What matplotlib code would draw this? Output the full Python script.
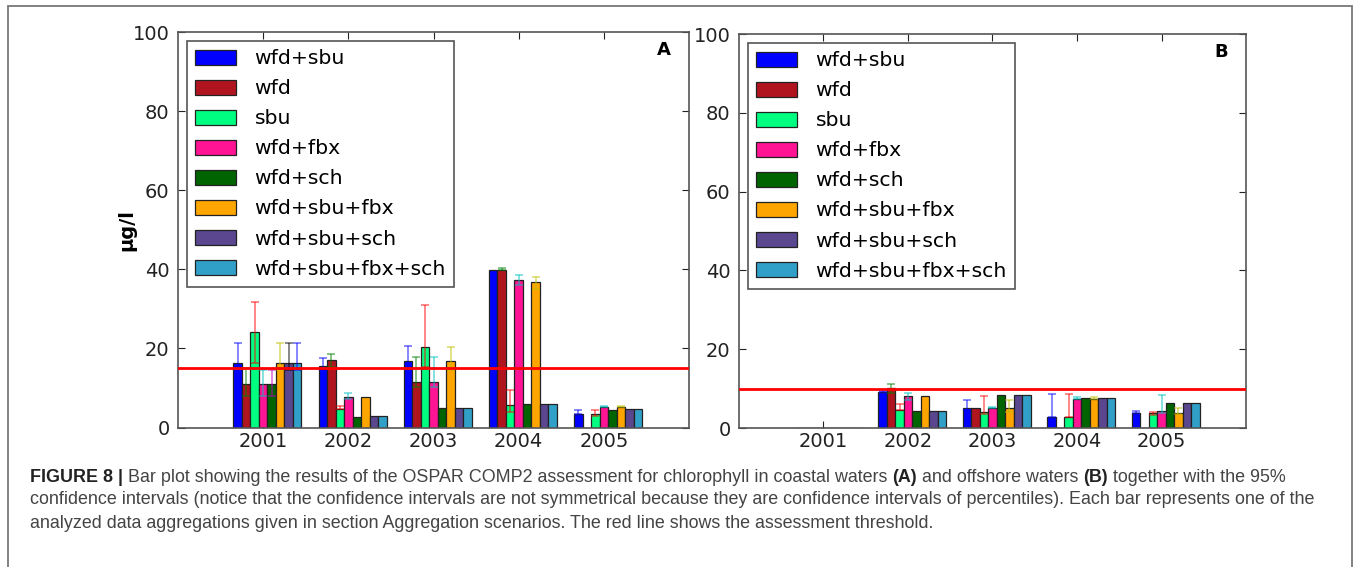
import numpy as np
import matplotlib
matplotlib.use('Agg')
import matplotlib.pyplot as plt
from matplotlib.patches import Rectangle

years = ['2001', '2002', '2003', '2004', '2005']
labels = ['wfd+sbu', 'wfd', 'sbu', 'wfd+fbx', 'wfd+sch',
          'wfd+sbu+fbx', 'wfd+sbu+sch', 'wfd+sbu+fbx+sch']
colors = ['#0000ff', '#b0151f', '#00ff80', '#ff1493', '#006400',
          '#ffa500', '#5b4790', '#31a0c8']
ecolors = ['b', 'g', 'r', 'c', 'm', 'y', 'k', 'b']

# coastal waters (A): percentile value, lower and upper 95% CI bound
coastal = {
    'wfd+sbu':         [16.4, 15.5, 16.9, 39.8, 3.4],
    'wfd':             [11.0, 17.1, 11.4, 39.8, 0.0],
    'sbu':             [24.1, 4.8, 20.4, 5.8, 3.4],
    'wfd+fbx':         [11.0, 7.8, 11.4, 37.3, 5.2],
    'wfd+sch':         [11.0, 2.7, 4.9, 5.9, 4.5],
    'wfd+sbu+fbx':     [16.4, 7.8, 16.9, 36.7, 5.2],
    'wfd+sbu+sch':     [16.4, 2.8, 4.9, 5.9, 4.6],
    'wfd+sbu+fbx+sch': [16.4, 2.8, 4.9, 5.9, 4.6],
}
coastal_lo = {
    'wfd+sbu':         [15.5, 14.5, 16.0, 39.8, 3.4],
    'wfd':             [8.0, 15.3, 10.3, 39.8, 0.0],
    'sbu':             [16.4, 4.8, 15.3, 4.0, 3.0],
    'wfd+fbx':         [8.0, 7.3, 10.3, 36.0, 5.2],
    'wfd+sch':         [8.0, 2.7, 4.9, 5.9, 4.5],
    'wfd+sbu+fbx':     [14.5, 7.8, 14.5, 35.0, 5.2],
    'wfd+sbu+sch':     [14.5, 2.8, 4.9, 5.9, 4.6],
    'wfd+sbu+fbx+sch': [14.5, 2.8, 4.9, 5.9, 4.6],
}
coastal_hi = {
    'wfd+sbu':         [21.3, 17.5, 20.5, 39.8, 4.4],
    'wfd':             [15.0, 18.7, 17.9, 40.4, 0.0],
    'sbu':             [31.7, 5.5, 30.9, 9.5, 4.4],
    'wfd+fbx':         [14.5, 8.8, 17.9, 38.5, 5.5],
    'wfd+sch':         [14.5, 2.7, 4.9, 5.9, 4.5],
    'wfd+sbu+fbx':     [21.3, 7.8, 20.4, 38.0, 5.5],
    'wfd+sbu+sch':     [21.3, 2.8, 4.9, 5.9, 4.6],
    'wfd+sbu+fbx+sch': [21.3, 2.8, 4.9, 5.9, 4.6],
}

# offshore waters (B)
offshore = {
    'wfd+sbu':         [0.0, 9.2, 5.0, 2.9, 3.9],
    'wfd':             [0.0, 10.1, 5.2, 0.0, 0.0],
    'sbu':             [0.0, 4.6, 4.0, 2.9, 3.7],
    'wfd+fbx':         [0.0, 8.1, 5.1, 7.3, 4.4],
    'wfd+sch':         [0.0, 4.2, 8.4, 7.5, 6.4],
    'wfd+sbu+fbx':     [0.0, 8.1, 5.0, 7.3, 3.9],
    'wfd+sbu+sch':     [0.0, 4.2, 8.4, 7.5, 6.4],
    'wfd+sbu+fbx+sch': [0.0, 4.2, 8.4, 7.5, 6.4],
}
offshore_lo = {
    'wfd+sbu':         [0.0, 9.2, 4.5, 2.9, 3.9],
    'wfd':             [0.0, 8.8, 5.2, 0.0, 0.0],
    'sbu':             [0.0, 4.6, 3.5, 2.9, 3.4],
    'wfd+fbx':         [0.0, 7.2, 5.1, 7.3, 3.7],
    'wfd+sch':         [0.0, 4.2, 8.4, 7.5, 6.4],
    'wfd+sbu+fbx':     [0.0, 8.1, 4.0, 7.3, 3.5],
    'wfd+sbu+sch':     [0.0, 4.2, 8.4, 7.5, 6.4],
    'wfd+sbu+fbx+sch': [0.0, 4.2, 8.4, 7.5, 6.4],
}
offshore_hi = {
    'wfd+sbu':         [0.0, 9.4, 7.1, 8.6, 4.2],
    'wfd':             [0.0, 11.2, 5.2, 0.0, 0.0],
    'sbu':             [0.0, 6.0, 8.0, 8.6, 4.1],
    'wfd+fbx':         [0.0, 9.0, 5.4, 7.8, 8.5],
    'wfd+sch':         [0.0, 4.2, 8.4, 7.5, 6.4],
    'wfd+sbu+fbx':     [0.0, 8.1, 7.1, 7.8, 5.2],
    'wfd+sbu+sch':     [0.0, 4.2, 8.4, 7.5, 6.4],
    'wfd+sbu+fbx+sch': [0.0, 4.2, 8.4, 7.5, 6.4],
}

thresholds = [15, 10]
panel_names = ['A', 'B']

caption_lines = [
    [('FIGURE 8 |', 'bold'), ('Bar plot showing the results of the OSPAR COMP2 assessment for chlorophyll in coastal waters', 'normal'),
     ('(A)', 'bold'), ('and offshore waters', 'normal'), ('(B)', 'bold'), ('together with the 95%', 'normal')],
    [('confidence intervals (notice that the confidence intervals are not symmetrical because they are confidence intervals of percentiles). Each bar represents one of the', 'normal')],
    [('analyzed data aggregations given in section Aggregation scenarios. The red line shows the assessment threshold.', 'normal')],
]

W, H = 1360, 567
plt.rcParams['font.family'] = 'DejaVu Sans'
fig = plt.figure(figsize=(W / 100, H / 100), dpi=100)
fig.patch.set_facecolor('white')

ax_a = fig.add_axes([178 / W, 1 - 427.5 / H, 511 / W, 395.5 / H])
ax_b = fig.add_axes([739 / W, 1 - 428 / H, 507 / W, 394 / H])

width = 0.1
ind = np.arange(len(years))

panels = [(ax_a, coastal, coastal_lo, coastal_hi),
          (ax_b, offshore, offshore_lo, offshore_hi)]

for k, (ax, vals, lo, hi) in enumerate(panels):
    for i, name in enumerate(labels):
        v = np.array(vals[name])
        yerr = np.array([v - np.array(lo[name]), np.array(hi[name]) - v])
        yerr = np.clip(yerr, 0, None)
        ax.bar(ind + i * width, v, width, color=colors[i], edgecolor='#222222',
               linewidth=0.9, label=name, zorder=2)
        has_err = (yerr.sum(axis=0) > 0)
        if has_err.any():
            ax.errorbar((ind + i * width)[has_err], v[has_err], yerr=yerr[:, has_err],
                        fmt='none', ecolor=ecolors[i], alpha=0.55, elinewidth=1.2,
                        capsize=3, capthick=1.2, zorder=3)
    ax.axhline(thresholds[k], color='#ff0000', lw=2, zorder=4)
    ax.set_xlim(-0.7, 5.3)
    ax.set_ylim(0, 100)
    ax.set_xticks(ind + 3 * width)
    ax.set_xticklabels(years)
    ax.set_yticks(np.arange(0, 101, 20))
    ax.tick_params(direction='in', top=True, right=True, length=5, width=0.8,
                   labelsize=14, colors='#222222')
    ax.tick_params(axis='x', pad=3)
    ax.tick_params(axis='y', pad=6)
    for sp in ax.spines.values():
        sp.set_color('#555555')
        sp.set_linewidth(1.2)
    ax.text(0.965, 0.978, panel_names[k], transform=ax.transAxes, ha='right', va='top',
            fontsize=13, fontweight='bold')
    leg = ax.legend(loc='upper left', fontsize=14.7, handlelength=2.0, handleheight=0.75,
                    labelspacing=0.54, borderaxespad=0.45, borderpad=0.4,
                    handletextpad=0.9, fancybox=False, framealpha=1)
    leg.get_frame().set_edgecolor('#555555')
    leg.get_frame().set_linewidth(1.2)

ax_a.set_ylabel('µg/l', fontsize=14, fontweight='bold')
ax_a.yaxis.set_label_coords((136 - 178) / 511, 0.5)

# framed caption below the two panels
fig.patches.append(Rectangle((8 / W, -0.05), 1344 / W, 1.05 - 6 / H, transform=fig.transFigure,
                             fill=False, edgecolor='#777777', linewidth=1.3))

renderer = fig.canvas.get_renderer()
cap_font = 'Liberation Sans'
cap_size = 12.85
probe1 = fig.text(0, 0, 'x x', fontsize=cap_size, family=cap_font)
probe2 = fig.text(0, 0, 'xx', fontsize=cap_size, family=cap_font)
space_w = probe1.get_window_extent(renderer).width - probe2.get_window_extent(renderer).width
probe1.remove()
probe2.remove()

line_y = [477, 500, 523]
for y, pieces in zip(line_y, caption_lines):
    x = 30
    for txt, weight in pieces:
        t = fig.text(x / W, 1 - y / H, txt, fontsize=cap_size, family=cap_font,
                     fontweight=weight, va='center', ha='left',
                     color='#222222' if weight == 'bold' else '#444444')
        x += t.get_window_extent(renderer).width + space_w

fig.savefig('out.png', dpi=100, facecolor='white')
